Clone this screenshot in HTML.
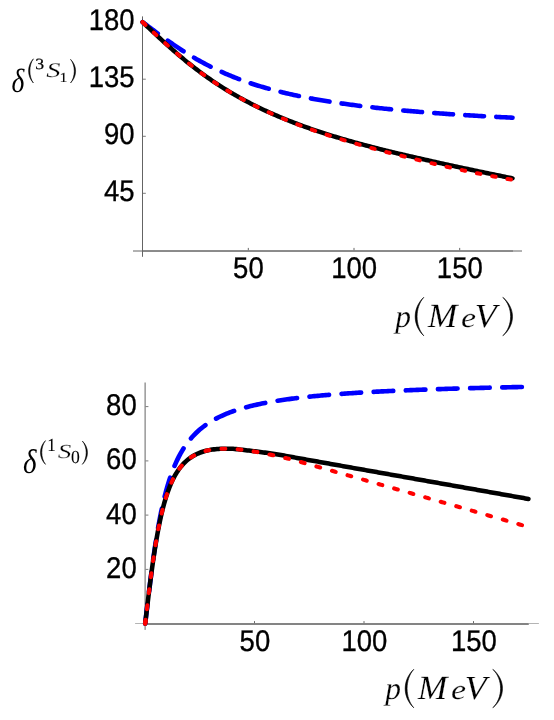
<!DOCTYPE html>
<html><head><meta charset="utf-8"><style>
html,body{margin:0;padding:0;background:#fff;}
svg{display:block;will-change:transform}
text{text-rendering:geometricPrecision}
.t{font-family:"Liberation Sans",sans-serif;font-size:27.5px;fill:#000;stroke:#000;stroke-width:0.3px}
.m{font-family:"Liberation Serif",serif;font-style:italic;fill:#000;stroke:#fff;stroke-width:0.2px}
.r{font-family:"Liberation Serif",serif;font-style:normal;fill:#000;stroke:#000;stroke-width:0.1px}
.n{font-family:"Liberation Serif",serif;font-style:italic;fill:#000}
</style></head><body>
<svg width="554" height="720" viewBox="0 0 554 720">
<g stroke="#646464" stroke-width="1" fill="none">
<path d="M142.5,16.4V256.8"/><path d="M133,251H522"/><path d="M142.5,251H513"/><path stroke-width="1" stroke="#686868" d="M248.3,250.3v-2.4M354.0,250.3v-2.4M459.7,250.3v-2.4"/><path stroke-width="0.8" stroke="#5a5a5a" d="M143.0,193.3h2.8M143.0,136.3h2.8M143.0,79.2h2.8M143.0,22.1h2.8"/>
<path d="M145.1,382.5V629.9"/><path stroke="#b4b4b4" d="M135.1,623.5H145.1M528.8,623.5H538.9"/><rect x="145.1" y="623" width="383.7" height="2" fill="#848484" stroke="none"/><path stroke-width="1" stroke="#686868" d="M254.5,623.2v-2.1M364.0,623.2v-2.1M473.5,623.2v-2.1"/><path stroke-width="0.8" stroke="#5a5a5a" d="M145.6,569.4h2.8M145.6,515.1h2.8M145.6,460.9h2.8M145.6,406.6h2.8"/>
</g>
<g class="t">
<text transform="translate(134.60,30.12) scale(1,1.090)" text-anchor="end">180</text>
<text transform="translate(134.60,87.19) scale(1,1.090)" text-anchor="end">135</text>
<text transform="translate(134.60,144.26) scale(1,1.090)" text-anchor="end">90</text>
<text transform="translate(134.60,201.33) scale(1,1.090)" text-anchor="end">45</text>
<text transform="translate(248.40,278.30) scale(1,1.090)" text-anchor="middle">50</text>
<text transform="translate(354.10,278.30) scale(1,1.090)" text-anchor="middle">100</text>
<text transform="translate(459.80,278.30) scale(1,1.090)" text-anchor="middle">150</text>
<text transform="translate(136.70,415.20) scale(1,1.090)" text-anchor="end">80</text>
<text transform="translate(136.70,469.45) scale(1,1.090)" text-anchor="end">60</text>
<text transform="translate(136.70,523.70) scale(1,1.090)" text-anchor="end">40</text>
<text transform="translate(136.70,577.95) scale(1,1.090)" text-anchor="end">20</text>
<text transform="translate(254.90,651.20) scale(1,1.090)" text-anchor="middle">50</text>
<text transform="translate(364.40,651.20) scale(1,1.090)" text-anchor="middle">100</text>
<text transform="translate(473.90,651.20) scale(1,1.090)" text-anchor="middle">150</text>
</g>
<text class="n" font-size="33.66" transform="translate(11.38,91.56) scale(0.817,1)">δ</text>
<path d="M33.40,58.80 C27.00,65.58 27.00,76.22 33.40,83.00 C28.73,76.71 28.73,65.09 33.40,58.80Z" fill="#000" stroke="#000" stroke-width="0.55" stroke-linejoin="round"/>
<text class="r" font-size="15.61" transform="translate(35.16,69.24) scale(1.133,1)" style="stroke-width:0.25px">3</text>
<text class="m" font-size="20.82" transform="translate(46.14,76.79) scale(1.370,1)">S</text>
<text class="r" font-size="13.79" transform="translate(59.61,81.70) scale(1.152,1)">1</text>
<path d="M70.50,59.30 C77.30,65.94 77.30,76.36 70.50,83.00 C75.57,76.84 75.57,65.46 70.50,59.30Z" fill="#000" stroke="#000" stroke-width="0.55" stroke-linejoin="round"/>
<text class="n" font-size="34.23" transform="translate(23.03,472.56) scale(0.849,1)">δ</text>
<path d="M45.50,440.60 C38.83,447.26 38.83,457.74 45.50,464.40 C40.57,458.21 40.57,446.79 45.50,440.60Z" fill="#000" stroke="#000" stroke-width="0.55" stroke-linejoin="round"/>
<text class="r" font-size="18.48" transform="translate(47.31,450.70) scale(0.921,1)">1</text>
<text class="m" font-size="19.93" transform="translate(57.86,458.20) scale(1.367,1)">S</text>
<text class="r" font-size="18.37" transform="translate(71.04,462.92) scale(0.961,1)">0</text>
<path d="M82.30,441.00 C89.23,447.55 89.23,457.85 82.30,464.40 C87.50,458.32 87.50,447.08 82.30,441.00Z" fill="#000" stroke="#000" stroke-width="0.55" stroke-linejoin="round"/>
<text class="m" font-size="31.94" transform="translate(395.21,326.61) scale(0.985,1)">p</text>
<path d="M423.80,297.30 C412.33,308.08 412.33,325.02 423.80,335.80 C414.87,325.79 414.87,307.31 423.80,297.30Z" fill="#000" stroke="#000" stroke-width="0.60" stroke-linejoin="round"/>
<text class="m" font-size="33.89" transform="translate(427.64,326.70) scale(1.048,1)">M</text>
<text class="m" font-size="27.92" transform="translate(460.98,326.72) scale(1.214,1)">e</text>
<text class="m" font-size="33.73" transform="translate(474.49,326.59) scale(1.077,1)">V</text>
<path d="M502.80,297.30 C515.73,308.08 515.73,325.02 502.80,335.80 C513.20,325.79 513.20,307.31 502.80,297.30Z" fill="#000" stroke="#000" stroke-width="0.60" stroke-linejoin="round"/>
<text class="m" font-size="31.94" transform="translate(385.21,698.61) scale(0.985,1)">p</text>
<path d="M413.80,669.30 C402.33,680.08 402.33,697.02 413.80,707.80 C404.87,697.79 404.87,679.31 413.80,669.30Z" fill="#000" stroke="#000" stroke-width="0.60" stroke-linejoin="round"/>
<text class="m" font-size="33.89" transform="translate(417.64,698.70) scale(1.048,1)">M</text>
<text class="m" font-size="27.92" transform="translate(450.98,698.72) scale(1.214,1)">e</text>
<text class="m" font-size="33.73" transform="translate(464.49,698.59) scale(1.077,1)">V</text>
<path d="M492.80,669.30 C505.73,680.08 505.73,697.02 492.80,707.80 C503.20,697.79 503.20,679.31 492.80,669.30Z" fill="#000" stroke="#000" stroke-width="0.60" stroke-linejoin="round"/>
<g transform="scale(1,1.02)" fill="none" stroke-linecap="round">
<path d="M142.60,21.69 L144.14,22.82 L145.68,23.96 L147.22,25.09 L148.77,26.23 L150.31,27.36 L151.85,28.49 L153.39,29.61 L154.93,30.73 L156.47,31.85 L158.01,32.96 L159.56,34.06 L161.10,35.16 L162.64,36.26 L164.18,37.34 L165.72,38.42 L167.26,39.49 L168.80,40.56 L170.35,41.61 L171.89,42.66 L173.43,43.69 L174.97,44.72 L176.51,45.74 L178.05,46.74 L179.59,47.74 L181.14,48.72 L182.68,49.70 L184.22,50.66 L185.76,51.62 L187.30,52.56 L188.84,53.49 L190.39,54.41 L191.93,55.32 L193.47,56.21 L195.01,57.10 L196.55,57.97 L198.09,58.83 L199.63,59.68 L201.18,60.51 L202.72,61.34 L204.26,62.15 L205.80,62.96 L207.34,63.75 L208.88,64.52 L210.42,65.29 L211.97,66.05 L213.51,66.79 L215.05,67.52 L216.59,68.25 L218.13,68.96 L219.67,69.66 L221.21,70.35 L222.76,71.03 L224.30,71.69 L225.84,72.35 L227.38,73.00 L228.92,73.63 L230.46,74.26 L232.00,74.88 L233.55,75.49 L235.09,76.08 L236.63,76.67 L238.17,77.25 L239.71,77.82 L241.25,78.38 L242.79,78.93 L244.34,79.48 L245.88,80.01 L247.42,80.54 L248.96,81.06 L250.50,81.57 L252.04,82.07 L253.58,82.56 L255.13,83.05 L256.67,83.53 L258.21,84.00 L259.75,84.46 L261.29,84.92 L262.83,85.37 L264.38,85.81 L265.92,86.25 L267.46,86.68 L269.00,87.10 L270.54,87.51 L272.08,87.92 L273.62,88.33 L275.17,88.72 L276.71,89.11 L278.25,89.50 L279.79,89.88 L281.33,90.25 L282.87,90.62 L284.41,90.99 L285.96,91.34 L287.50,91.70 L289.04,92.04 L290.58,92.38 L292.12,92.72 L293.66,93.05 L295.20,93.38 L296.75,93.70 L298.29,94.02 L299.83,94.34 L301.37,94.65 L302.91,94.95 L304.45,95.25 L305.99,95.55 L307.54,95.84 L309.08,96.13 L310.62,96.41 L312.16,96.69 L313.70,96.97 L315.24,97.24 L316.78,97.51 L318.33,97.78 L319.87,98.04 L321.41,98.30 L322.95,98.55 L324.49,98.81 L326.03,99.05 L327.57,99.30 L329.12,99.54 L330.66,99.78 L332.20,100.02 L333.74,100.25 L335.28,100.48 L336.82,100.71 L338.37,100.93 L339.91,101.15 L341.45,101.37 L342.99,101.59 L344.53,101.80 L346.07,102.01 L347.61,102.22 L349.16,102.42 L350.70,102.62 L352.24,102.82 L353.78,103.02 L355.32,103.22 L356.86,103.41 L358.40,103.60 L359.95,103.79 L361.49,103.98 L363.03,104.16 L364.57,104.34 L366.11,104.52 L367.65,104.70 L369.19,104.88 L370.74,105.05 L372.28,105.22 L373.82,105.39 L375.36,105.56 L376.90,105.73 L378.44,105.89 L379.98,106.05 L381.53,106.21 L383.07,106.37 L384.61,106.53 L386.15,106.69 L387.69,106.84 L389.23,106.99 L390.77,107.14 L392.32,107.29 L393.86,107.44 L395.40,107.58 L396.94,107.73 L398.48,107.87 L400.02,108.01 L401.56,108.15 L403.11,108.29 L404.65,108.43 L406.19,108.56 L407.73,108.70 L409.27,108.83 L410.81,108.96 L412.36,109.09 L413.90,109.22 L415.44,109.34 L416.98,109.47 L418.52,109.60 L420.06,109.72 L421.60,109.84 L423.15,109.96 L424.69,110.08 L426.23,110.20 L427.77,110.32 L429.31,110.43 L430.85,110.55 L432.39,110.66 L433.94,110.78 L435.48,110.89 L437.02,111.00 L438.56,111.11 L440.10,111.22 L441.64,111.33 L443.18,111.43 L444.73,111.54 L446.27,111.65 L447.81,111.75 L449.35,111.85 L450.89,111.95 L452.43,112.06 L453.97,112.16 L455.52,112.26 L457.06,112.35 L458.60,112.45 L460.14,112.55 L461.68,112.64 L463.22,112.74 L464.76,112.83 L466.31,112.93 L467.85,113.02 L469.39,113.11 L470.93,113.20 L472.47,113.29 L474.01,113.38 L475.55,113.47 L477.10,113.56 L478.64,113.65 L480.18,113.73 L481.72,113.82 L483.26,113.90 L484.80,113.99 L486.35,114.07 L487.89,114.15 L489.43,114.24 L490.97,114.32 L492.51,114.40 L494.05,114.48 L495.59,114.56 L497.14,114.64 L498.68,114.71 L500.22,114.79 L501.76,114.87 L503.30,114.95 L504.84,115.02 L506.38,115.10 L507.93,115.17 L509.47,115.24 L511.01,115.32 L512.55,115.39" stroke="#0000ff" stroke-width="4.5" stroke-dasharray="18.9 12.15"/>
<path d="M142.60,21.69 L144.14,23.11 L145.68,24.54 L147.22,25.96 L148.77,27.39 L150.31,28.81 L151.85,30.22 L153.39,31.64 L154.93,33.05 L156.47,34.45 L158.01,35.85 L159.56,37.25 L161.10,38.64 L162.64,40.02 L164.18,41.39 L165.72,42.76 L167.26,44.12 L168.80,45.47 L170.35,46.81 L171.89,48.15 L173.43,49.47 L174.97,50.79 L176.51,52.09 L178.05,53.39 L179.59,54.67 L181.14,55.94 L182.68,57.20 L184.22,58.46 L185.76,59.70 L187.30,60.92 L188.84,62.14 L190.39,63.34 L191.93,64.54 L193.47,65.72 L195.01,66.89 L196.55,68.04 L198.09,69.19 L199.63,70.32 L201.18,71.44 L202.72,72.55 L204.26,73.65 L205.80,74.73 L207.34,75.80 L208.88,76.86 L210.42,77.91 L211.97,78.95 L213.51,79.97 L215.05,80.99 L216.59,81.99 L218.13,82.98 L219.67,83.96 L221.21,84.93 L222.76,85.88 L224.30,86.83 L225.84,87.77 L227.38,88.69 L228.92,89.60 L230.46,90.51 L232.00,91.40 L233.55,92.28 L235.09,93.16 L236.63,94.02 L238.17,94.87 L239.71,95.71 L241.25,96.55 L242.79,97.37 L244.34,98.19 L245.88,98.99 L247.42,99.79 L248.96,100.58 L250.50,101.36 L252.04,102.13 L253.58,102.89 L255.13,103.65 L256.67,104.39 L258.21,105.13 L259.75,105.86 L261.29,106.58 L262.83,107.30 L264.38,108.01 L265.92,108.71 L267.46,109.40 L269.00,110.08 L270.54,110.76 L272.08,111.43 L273.62,112.09 L275.17,112.75 L276.71,113.40 L278.25,114.05 L279.79,114.68 L281.33,115.32 L282.87,115.94 L284.41,116.56 L285.96,117.17 L287.50,117.78 L289.04,118.38 L290.58,118.98 L292.12,119.56 L293.66,120.15 L295.20,120.73 L296.75,121.30 L298.29,121.87 L299.83,122.43 L301.37,122.99 L302.91,123.54 L304.45,124.09 L305.99,124.63 L307.54,125.17 L309.08,125.70 L310.62,126.23 L312.16,126.75 L313.70,127.27 L315.24,127.78 L316.78,128.29 L318.33,128.80 L319.87,129.30 L321.41,129.80 L322.95,130.29 L324.49,130.78 L326.03,131.26 L327.57,131.75 L329.12,132.22 L330.66,132.69 L332.20,133.16 L333.74,133.63 L335.28,134.09 L336.82,134.55 L338.37,135.00 L339.91,135.45 L341.45,135.90 L342.99,136.34 L344.53,136.78 L346.07,137.22 L347.61,137.65 L349.16,138.08 L350.70,138.51 L352.24,138.93 L353.78,139.35 L355.32,139.77 L356.86,140.19 L358.40,140.60 L359.95,141.01 L361.49,141.42 L363.03,141.82 L364.57,142.23 L366.11,142.63 L367.65,143.03 L369.19,143.42 L370.74,143.82 L372.28,144.21 L373.82,144.60 L375.36,144.99 L376.90,145.38 L378.44,145.76 L379.98,146.14 L381.53,146.52 L383.07,146.90 L384.61,147.28 L386.15,147.65 L387.69,148.02 L389.23,148.39 L390.77,148.76 L392.32,149.13 L393.86,149.49 L395.40,149.85 L396.94,150.21 L398.48,150.57 L400.02,150.92 L401.56,151.28 L403.11,151.63 L404.65,151.98 L406.19,152.33 L407.73,152.67 L409.27,153.02 L410.81,153.36 L412.36,153.71 L413.90,154.05 L415.44,154.40 L416.98,154.75 L418.52,155.09 L420.06,155.44 L421.60,155.78 L423.15,156.13 L424.69,156.47 L426.23,156.81 L427.77,157.16 L429.31,157.50 L430.85,157.84 L432.39,158.19 L433.94,158.53 L435.48,158.87 L437.02,159.21 L438.56,159.54 L440.10,159.88 L441.64,160.22 L443.18,160.55 L444.73,160.89 L446.27,161.22 L447.81,161.55 L449.35,161.88 L450.89,162.21 L452.43,162.54 L453.97,162.87 L455.52,163.19 L457.06,163.52 L458.60,163.84 L460.14,164.16 L461.68,164.48 L463.22,164.80 L464.76,165.12 L466.31,165.43 L467.85,165.75 L469.39,166.07 L470.93,166.39 L472.47,166.71 L474.01,167.02 L475.55,167.34 L477.10,167.66 L478.64,167.98 L480.18,168.29 L481.72,168.61 L483.26,168.92 L484.80,169.24 L486.35,169.55 L487.89,169.87 L489.43,170.18 L490.97,170.50 L492.51,170.81 L494.05,171.12 L495.59,171.44 L497.14,171.75 L498.68,172.06 L500.22,172.37 L501.76,172.68 L503.30,173.00 L504.84,173.31 L506.38,173.61 L507.93,173.92 L509.47,174.23 L511.01,174.54 L512.55,174.85" stroke="#000" stroke-width="4.4"/>
<path d="M142.60,21.69 L144.14,23.11 L145.68,24.54 L147.22,25.97 L148.77,27.39 L150.31,28.82 L151.85,30.24 L153.39,31.65 L154.93,33.06 L156.47,34.47 L158.01,35.87 L159.56,37.27 L161.10,38.66 L162.64,40.05 L164.18,41.42 L165.72,42.79 L167.26,44.15 L168.80,45.51 L170.35,46.85 L171.89,48.19 L173.43,49.51 L174.97,50.83 L176.51,52.14 L178.05,53.43 L179.59,54.72 L181.14,55.99 L182.68,57.26 L184.22,58.51 L185.76,59.75 L187.30,60.98 L188.84,62.20 L190.39,63.41 L191.93,64.60 L193.47,65.78 L195.01,66.95 L196.55,68.11 L198.09,69.26 L199.63,70.39 L201.18,71.51 L202.72,72.62 L204.26,73.72 L205.80,74.81 L207.34,75.88 L208.88,76.94 L210.42,77.99 L211.97,79.03 L213.51,80.06 L215.05,81.07 L216.59,82.08 L218.13,83.07 L219.67,84.05 L221.21,85.02 L222.76,85.97 L224.30,86.92 L225.84,87.86 L227.38,88.78 L228.92,89.70 L230.46,90.60 L232.00,91.49 L233.55,92.38 L235.09,93.25 L236.63,94.11 L238.17,94.97 L239.71,95.81 L241.25,96.65 L242.79,97.47 L244.34,98.29 L245.88,99.09 L247.42,99.89 L248.96,100.68 L250.50,101.46 L252.04,102.23 L253.58,103.00 L255.13,103.75 L256.67,104.50 L258.21,105.25 L259.75,105.98 L261.29,106.71 L262.83,107.43 L264.38,108.15 L265.92,108.85 L267.46,109.55 L269.00,110.25 L270.54,110.93 L272.08,111.61 L273.62,112.29 L275.17,112.95 L276.71,113.62 L278.25,114.27 L279.79,114.92 L281.33,115.56 L282.87,116.20 L284.41,116.83 L285.96,117.45 L287.50,118.07 L289.04,118.68 L290.58,119.29 L292.12,119.89 L293.66,120.49 L295.20,121.08 L296.75,121.66 L298.29,122.24 L299.83,122.81 L301.37,123.38 L302.91,123.94 L304.45,124.50 L305.99,125.06 L307.54,125.61 L309.08,126.15 L310.62,126.69 L312.16,127.22 L313.70,127.75 L315.24,128.28 L316.78,128.80 L318.33,129.32 L319.87,129.83 L321.41,130.34 L322.95,130.85 L324.49,131.35 L326.03,131.85 L327.57,132.34 L329.12,132.83 L330.66,133.32 L332.20,133.81 L333.74,134.29 L335.28,134.76 L336.82,135.23 L338.37,135.70 L339.91,136.17 L341.45,136.63 L342.99,137.09 L344.53,137.55 L346.07,138.01 L347.61,138.46 L349.16,138.90 L350.70,139.35 L352.24,139.79 L353.78,140.23 L355.32,140.67 L356.86,141.10 L358.40,141.54 L359.95,141.97 L361.49,142.39 L363.03,142.82 L364.57,143.24 L366.11,143.66 L367.65,144.08 L369.19,144.50 L370.74,144.92 L372.28,145.33 L373.82,145.74 L375.36,146.15 L376.90,146.56 L378.44,146.96 L379.98,147.36 L381.53,147.76 L383.07,148.16 L384.61,148.56 L386.15,148.96 L387.69,149.35 L389.23,149.74 L390.77,150.13 L392.32,150.52 L393.86,150.91 L395.40,151.29 L396.94,151.67 L398.48,152.05 L400.02,152.43 L401.56,152.81 L403.11,153.19 L404.65,153.56 L406.19,153.93 L407.73,154.30 L409.27,154.67 L410.81,155.05 L412.36,155.42 L413.90,155.79 L415.44,156.16 L416.98,156.53 L418.52,156.90 L420.06,157.27 L421.60,157.64 L423.15,158.01 L424.69,158.38 L426.23,158.75 L427.77,159.12 L429.31,159.48 L430.85,159.85 L432.39,160.21 L433.94,160.57 L435.48,160.93 L437.02,161.29 L438.56,161.65 L440.10,162.01 L441.64,162.36 L443.18,162.71 L444.73,163.06 L446.27,163.41 L447.81,163.75 L449.35,164.10 L450.89,164.44 L452.43,164.77 L453.97,165.11 L455.52,165.44 L457.06,165.77 L458.60,166.09 L460.14,166.41 L461.68,166.73 L463.22,167.05 L464.76,167.37 L466.31,167.68 L467.85,167.99 L469.39,168.30 L470.93,168.61 L472.47,168.92 L474.01,169.22 L475.55,169.53 L477.10,169.83 L478.64,170.13 L480.18,170.43 L481.72,170.73 L483.26,171.02 L484.80,171.31 L486.35,171.61 L487.89,171.90 L489.43,172.18 L490.97,172.47 L492.51,172.76 L494.05,173.04 L495.59,173.32 L497.14,173.60 L498.68,173.88 L500.22,174.16 L501.76,174.43 L503.30,174.71 L504.84,174.98 L506.38,175.25 L507.93,175.52 L509.47,175.79 L511.01,176.05 L512.55,176.32" stroke="#ff0000" stroke-width="3.9" stroke-dasharray="3.6 11.91" stroke-dashoffset="0.4"/>
<path d="M142.60,21.69 L142.71,21.78 L142.81,21.88 L142.92,21.98 L143.02,22.08 L143.13,22.18 L143.23,22.27 L143.34,22.37 L143.45,22.47 L143.55,22.57 L143.66,22.67 L143.76,22.76 L143.87,22.86 L143.97,22.96 L144.08,23.06 L144.19,23.16 L144.29,23.25 L144.40,23.35 L144.50,23.45 L144.61,23.55 L144.71,23.65 L144.82,23.74 L144.93,23.84 L145.03,23.94 L145.14,24.04 L145.24,24.13 L145.35,24.23 L145.45,24.33 L145.56,24.43" stroke="#ff0000" stroke-width="4.1"/>
</g>
<g transform="scale(1,1.0)" fill="none" stroke-linecap="round">
<path d="M145.20,623.60 L146.80,610.02 L148.39,596.65 L149.99,583.67 L151.59,571.23 L153.18,559.46 L154.78,548.41 L156.38,538.13 L157.97,528.62 L159.57,519.86 L161.17,511.82 L162.77,504.44 L164.36,497.68 L165.96,491.49 L167.56,485.81 L169.15,480.60 L170.75,475.81 L172.35,471.40 L173.94,467.33 L175.54,463.58 L177.14,460.10 L178.73,456.88 L180.33,453.88 L181.93,451.09 L183.52,448.49 L185.12,446.06 L186.72,443.79 L188.32,441.66 L189.91,439.65 L191.51,437.77 L193.11,436.00 L194.70,434.32 L196.30,432.74 L197.90,431.25 L199.49,429.83 L201.09,428.49 L202.69,427.21 L204.28,426.00 L205.88,424.84 L207.48,423.74 L209.07,422.69 L210.67,421.69 L212.27,420.73 L213.87,419.81 L215.46,418.94 L217.06,418.10 L218.66,417.29 L220.25,416.52 L221.85,415.77 L223.45,415.06 L225.04,414.37 L226.64,413.71 L228.24,413.07 L229.83,412.45 L231.43,411.86 L233.03,411.29 L234.62,410.74 L236.22,410.20 L237.82,409.69 L239.42,409.19 L241.01,408.70 L242.61,408.23 L244.21,407.78 L245.80,407.34 L247.40,406.91 L249.00,406.50 L250.59,406.10 L252.19,405.71 L253.79,405.33 L255.38,404.96 L256.98,404.61 L258.58,404.26 L260.17,403.92 L261.77,403.59 L263.37,403.27 L264.97,402.96 L266.56,402.65 L268.16,402.36 L269.76,402.07 L271.35,401.78 L272.95,401.51 L274.55,401.24 L276.14,400.98 L277.74,400.72 L279.34,400.47 L280.93,400.23 L282.53,399.99 L284.13,399.76 L285.73,399.53 L287.32,399.31 L288.92,399.09 L290.52,398.87 L292.11,398.67 L293.71,398.46 L295.31,398.26 L296.90,398.07 L298.50,397.87 L300.10,397.69 L301.69,397.50 L303.29,397.32 L304.89,397.14 L306.48,396.97 L308.08,396.80 L309.68,396.63 L311.27,396.47 L312.87,396.31 L314.47,396.15 L316.07,396.00 L317.66,395.85 L319.26,395.70 L320.86,395.55 L322.45,395.41 L324.05,395.27 L325.65,395.13 L327.24,394.99 L328.84,394.86 L330.44,394.72 L332.03,394.59 L333.63,394.47 L335.23,394.34 L336.82,394.22 L338.42,394.10 L340.02,393.98 L341.62,393.86 L343.21,393.75 L344.81,393.63 L346.41,393.52 L348.00,393.41 L349.60,393.30 L351.20,393.20 L352.79,393.09 L354.39,392.99 L355.99,392.89 L357.58,392.79 L359.18,392.69 L360.78,392.59 L362.38,392.49 L363.97,392.40 L365.57,392.31 L367.17,392.21 L368.76,392.12 L370.36,392.03 L371.96,391.95 L373.55,391.86 L375.15,391.77 L376.75,391.69 L378.34,391.61 L379.94,391.52 L381.54,391.44 L383.13,391.36 L384.73,391.28 L386.33,391.21 L387.92,391.13 L389.52,391.05 L391.12,390.98 L392.72,390.90 L394.31,390.83 L395.91,390.76 L397.51,390.69 L399.10,390.62 L400.70,390.55 L402.30,390.48 L403.89,390.41 L405.49,390.34 L407.09,390.28 L408.68,390.21 L410.28,390.15 L411.88,390.08 L413.47,390.02 L415.07,389.96 L416.67,389.90 L418.27,389.84 L419.86,389.78 L421.46,389.72 L423.06,389.66 L424.65,389.60 L426.25,389.54 L427.85,389.49 L429.44,389.43 L431.04,389.38 L432.64,389.32 L434.23,389.27 L435.83,389.21 L437.43,389.16 L439.02,389.11 L440.62,389.06 L442.22,389.00 L443.82,388.95 L445.41,388.90 L447.01,388.85 L448.61,388.80 L450.20,388.76 L451.80,388.71 L453.40,388.66 L454.99,388.61 L456.59,388.57 L458.19,388.52 L459.78,388.47 L461.38,388.43 L462.98,388.38 L464.57,388.34 L466.17,388.29 L467.77,388.25 L469.37,388.21 L470.96,388.17 L472.56,388.12 L474.16,388.08 L475.75,388.04 L477.35,388.00 L478.95,387.96 L480.54,387.92 L482.14,387.88 L483.74,387.84 L485.33,387.80 L486.93,387.76 L488.53,387.72 L490.12,387.68 L491.72,387.65 L493.32,387.61 L494.92,387.57 L496.51,387.53 L498.11,387.50 L499.71,387.46 L501.30,387.43 L502.90,387.39 L504.50,387.36 L506.09,387.32 L507.69,387.29 L509.29,387.25 L510.88,387.22 L512.48,387.18 L514.08,387.15 L515.67,387.12 L517.27,387.09 L518.87,387.05 L520.47,387.02 L522.06,386.99 L523.66,386.96 L525.26,386.93 L526.85,386.89 L528.45,386.86" stroke="#0000ff" stroke-width="4.65" stroke-dasharray="19.6 12.57"/>
<path d="M145.20,623.60 L146.80,610.05 L148.39,596.74 L149.99,583.89 L151.59,571.66 L153.18,560.19 L154.78,549.55 L156.38,539.76 L157.97,530.82 L159.57,522.70 L161.17,515.35 L162.77,508.72 L164.36,502.73 L165.96,497.34 L167.56,492.48 L169.15,488.10 L170.75,484.16 L172.35,480.61 L173.94,477.40 L175.54,474.50 L177.14,471.88 L178.73,469.51 L180.33,467.37 L181.93,465.43 L183.52,463.67 L185.12,462.07 L186.72,460.62 L188.32,459.30 L189.91,458.11 L191.51,457.01 L193.11,456.02 L194.70,455.11 L196.30,454.29 L197.90,453.54 L199.49,452.86 L201.09,452.26 L202.69,451.72 L204.28,451.24 L205.88,450.82 L207.48,450.45 L209.07,450.12 L210.67,449.83 L212.27,449.59 L213.87,449.38 L215.46,449.20 L217.06,449.06 L218.66,448.94 L220.25,448.85 L221.85,448.78 L223.45,448.74 L225.04,448.71 L226.64,448.69 L228.24,448.69 L229.83,448.71 L231.43,448.77 L233.03,448.85 L234.62,448.97 L236.22,449.11 L237.82,449.28 L239.42,449.45 L241.01,449.64 L242.61,449.83 L244.21,450.03 L245.80,450.22 L247.40,450.40 L249.00,450.58 L250.59,450.76 L252.19,450.95 L253.79,451.15 L255.38,451.36 L256.98,451.58 L258.58,451.80 L260.17,452.02 L261.77,452.23 L263.37,452.43 L264.97,452.63 L266.56,452.84 L268.16,453.05 L269.76,453.26 L271.35,453.48 L272.95,453.72 L274.55,453.96 L276.14,454.22 L277.74,454.49 L279.34,454.76 L280.93,455.04 L282.53,455.32 L284.13,455.61 L285.73,455.90 L287.32,456.18 L288.92,456.47 L290.52,456.76 L292.11,457.04 L293.71,457.33 L295.31,457.62 L296.90,457.90 L298.50,458.19 L300.10,458.47 L301.69,458.76 L303.29,459.05 L304.89,459.33 L306.48,459.62 L308.08,459.90 L309.68,460.19 L311.27,460.47 L312.87,460.76 L314.47,461.04 L316.07,461.33 L317.66,461.61 L319.26,461.90 L320.86,462.18 L322.45,462.47 L324.05,462.75 L325.65,463.04 L327.24,463.32 L328.84,463.61 L330.44,463.89 L332.03,464.18 L333.63,464.46 L335.23,464.74 L336.82,465.03 L338.42,465.31 L340.02,465.60 L341.62,465.88 L343.21,466.16 L344.81,466.45 L346.41,466.73 L348.00,467.02 L349.60,467.30 L351.20,467.58 L352.79,467.87 L354.39,468.15 L355.99,468.43 L357.58,468.72 L359.18,469.00 L360.78,469.28 L362.38,469.57 L363.97,469.85 L365.57,470.13 L367.17,470.42 L368.76,470.70 L370.36,470.98 L371.96,471.26 L373.55,471.55 L375.15,471.83 L376.75,472.11 L378.34,472.40 L379.94,472.68 L381.54,472.96 L383.13,473.24 L384.73,473.53 L386.33,473.81 L387.92,474.09 L389.52,474.37 L391.12,474.66 L392.72,474.94 L394.31,475.22 L395.91,475.50 L397.51,475.79 L399.10,476.07 L400.70,476.35 L402.30,476.63 L403.89,476.92 L405.49,477.20 L407.09,477.48 L408.68,477.76 L410.28,478.04 L411.88,478.33 L413.47,478.61 L415.07,478.89 L416.67,479.17 L418.27,479.45 L419.86,479.74 L421.46,480.02 L423.06,480.30 L424.65,480.58 L426.25,480.87 L427.85,481.15 L429.44,481.43 L431.04,481.71 L432.64,481.99 L434.23,482.28 L435.83,482.56 L437.43,482.84 L439.02,483.12 L440.62,483.40 L442.22,483.69 L443.82,483.97 L445.41,484.25 L447.01,484.53 L448.61,484.82 L450.20,485.10 L451.80,485.38 L453.40,485.66 L454.99,485.94 L456.59,486.23 L458.19,486.51 L459.78,486.79 L461.38,487.07 L462.98,487.35 L464.57,487.64 L466.17,487.92 L467.77,488.20 L469.37,488.48 L470.96,488.77 L472.56,489.05 L474.16,489.33 L475.75,489.61 L477.35,489.90 L478.95,490.18 L480.54,490.46 L482.14,490.74 L483.74,491.03 L485.33,491.31 L486.93,491.59 L488.53,491.88 L490.12,492.16 L491.72,492.44 L493.32,492.72 L494.92,493.01 L496.51,493.29 L498.11,493.57 L499.71,493.86 L501.30,494.14 L502.90,494.42 L504.50,494.70 L506.09,494.99 L507.69,495.27 L509.29,495.55 L510.88,495.84 L512.48,496.12 L514.08,496.41 L515.67,496.69 L517.27,496.97 L518.87,497.26 L520.47,497.54 L522.06,497.82 L523.66,498.11 L525.26,498.39 L526.85,498.68 L528.45,498.96" stroke="#000" stroke-width="4.55"/>
<path d="M145.20,623.60 L146.80,610.05 L148.39,596.74 L149.99,583.89 L151.59,571.66 L153.18,560.19 L154.78,549.55 L156.38,539.76 L157.97,530.82 L159.57,522.70 L161.17,515.35 L162.77,508.72 L164.36,502.73 L165.96,497.34 L167.56,492.48 L169.15,488.10 L170.75,484.16 L172.35,480.61 L173.94,477.40 L175.54,474.50 L177.14,471.88 L178.73,469.51 L180.33,467.37 L181.93,465.43 L183.52,463.67 L185.12,462.07 L186.72,460.62 L188.32,459.30 L189.91,458.11 L191.51,457.01 L193.11,456.02 L194.70,455.11 L196.30,454.29 L197.90,453.54 L199.49,452.86 L201.09,452.26 L202.69,451.72 L204.28,451.24 L205.88,450.82 L207.48,450.45 L209.07,450.12 L210.67,449.83 L212.27,449.59 L213.87,449.38 L215.46,449.20 L217.06,449.06 L218.66,448.94 L220.25,448.85 L221.85,448.78 L223.45,448.74 L225.04,448.71 L226.64,448.69 L228.24,448.69 L229.83,448.71 L231.43,448.77 L233.03,448.85 L234.62,448.97 L236.22,449.11 L237.82,449.28 L239.42,449.45 L241.01,449.64 L242.61,449.83 L244.21,450.03 L245.80,450.23 L247.40,450.45 L249.00,450.68 L250.59,450.93 L252.19,451.19 L253.79,451.46 L255.38,451.74 L256.98,452.03 L258.58,452.34 L260.17,452.65 L261.77,452.96 L263.37,453.27 L264.97,453.59 L266.56,453.90 L268.16,454.22 L269.76,454.55 L271.35,454.88 L272.95,455.23 L274.55,455.58 L276.14,455.94 L277.74,456.32 L279.34,456.67 L280.93,457.03 L282.53,457.38 L284.13,457.74 L285.73,458.10 L287.32,458.47 L288.92,458.85 L290.52,459.24 L292.11,459.65 L293.71,460.06 L295.31,460.49 L296.90,460.92 L298.50,461.37 L300.10,461.82 L301.69,462.27 L303.29,462.72 L304.89,463.17 L306.48,463.62 L308.08,464.07 L309.68,464.52 L311.27,464.97 L312.87,465.42 L314.47,465.87 L316.07,466.32 L317.66,466.78 L319.26,467.23 L320.86,467.68 L322.45,468.13 L324.05,468.58 L325.65,469.03 L327.24,469.48 L328.84,469.93 L330.44,470.38 L332.03,470.84 L333.63,471.29 L335.23,471.74 L336.82,472.19 L338.42,472.64 L340.02,473.09 L341.62,473.55 L343.21,474.00 L344.81,474.45 L346.41,474.90 L348.00,475.36 L349.60,475.81 L351.20,476.26 L352.79,476.71 L354.39,477.17 L355.99,477.62 L357.58,478.07 L359.18,478.52 L360.78,478.98 L362.38,479.43 L363.97,479.88 L365.57,480.34 L367.17,480.79 L368.76,481.24 L370.36,481.70 L371.96,482.15 L373.55,482.60 L375.15,483.06 L376.75,483.51 L378.34,483.96 L379.94,484.42 L381.54,484.87 L383.13,485.33 L384.73,485.78 L386.33,486.23 L387.92,486.69 L389.52,487.14 L391.12,487.60 L392.72,488.05 L394.31,488.51 L395.91,488.96 L397.51,489.41 L399.10,489.87 L400.70,490.32 L402.30,490.78 L403.89,491.23 L405.49,491.69 L407.09,492.14 L408.68,492.60 L410.28,493.05 L411.88,493.51 L413.47,493.97 L415.07,494.42 L416.67,494.88 L418.27,495.33 L419.86,495.79 L421.46,496.24 L423.06,496.70 L424.65,497.16 L426.25,497.61 L427.85,498.07 L429.44,498.52 L431.04,498.98 L432.64,499.44 L434.23,499.89 L435.83,500.35 L437.43,500.81 L439.02,501.26 L440.62,501.72 L442.22,502.18 L443.82,502.63 L445.41,503.09 L447.01,503.55 L448.61,504.01 L450.20,504.46 L451.80,504.92 L453.40,505.38 L454.99,505.83 L456.59,506.29 L458.19,506.75 L459.78,507.21 L461.38,507.67 L462.98,508.12 L464.57,508.58 L466.17,509.04 L467.77,509.50 L469.37,509.96 L470.96,510.41 L472.56,510.87 L474.16,511.33 L475.75,511.79 L477.35,512.25 L478.95,512.71 L480.54,513.16 L482.14,513.62 L483.74,514.08 L485.33,514.54 L486.93,515.00 L488.53,515.46 L490.12,515.92 L491.72,516.38 L493.32,516.84 L494.92,517.30 L496.51,517.76 L498.11,518.22 L499.71,518.67 L501.30,519.13 L502.90,519.59 L504.50,520.05 L506.09,520.51 L507.69,520.97 L509.29,521.43 L510.88,521.89 L512.48,522.35 L514.08,522.81 L515.67,523.28 L517.27,523.74 L518.87,524.20 L520.47,524.66 L522.06,525.12 L523.66,525.58 L525.26,526.04 L526.85,526.50 L528.45,526.96" stroke="#ff0000" stroke-width="4.1" stroke-dasharray="3.8 12.35" stroke-dashoffset="1.6"/>
<path d="M145.20,623.60 L145.31,622.67 L145.42,621.74 L145.53,620.80 L145.64,619.87" stroke="#ff0000" stroke-width="4.3"/>
</g>
</svg>
</body></html>
